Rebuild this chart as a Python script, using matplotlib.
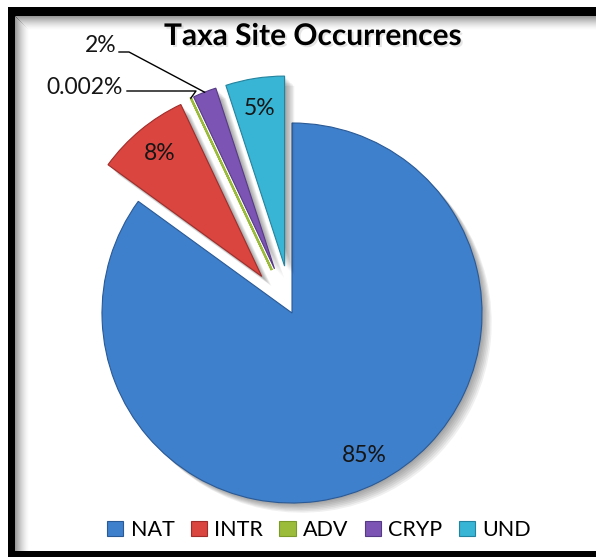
import matplotlib
matplotlib.use("Agg")
import matplotlib.pyplot as plt
import matplotlib.patheffects as pe
from matplotlib.patches import Rectangle, Patch
import numpy as np

plt.rcParams['font.family'] = ['Lato', 'DejaVu Sans']

taxa = ['NAT', 'INTR', 'ADV', 'CRYP', 'UND']
shares = [85, 8, 0.002, 2, 5]
pct_labels = ['85%', '8%', '0.002%', '2%', '5%']
colors = ['#3f80cc', '#da4540', '#9bbb3a', '#7c55b4', '#38b4d4']
edges = ['#2a5a96', '#a02d2a', '#7c9a2a', '#573a86', '#24839e']

W, H = 596, 557
fig = plt.figure(figsize=(W / 100, H / 100), dpi=100, facecolor='white')
ax = fig.add_axes([0, 0, 1, 1])

R = 190
cx, cy = 292, 244
explode = [0] + [0.25 * R] * 4

# soft drop shadow built from a few stacked offsets
shadow = [pe.SimplePatchShadow(offset=(k, -k), shadow_rgbFace='black', alpha=0.06)
          for k in range(1, 8)] + [pe.Normal()]

wedges, _ = ax.pie(shares, colors=colors, explode=explode, radius=R,
                   center=(cx, cy), startangle=90, counterclock=False,
                   wedgeprops=dict(linewidth=0.8))
for w, ec in zip(wedges, edges):
    w.set_edgecolor(ec)
    w.set_path_effects(shadow)
wedges[2].set_linewidth(1.6)
wedges[2].set_edgecolor(colors[2])

def mid_point(w, frac):
    t = np.radians((w.theta1 + w.theta2) / 2)
    return w.center[0] + frac * w.r * np.cos(t), w.center[1] + frac * w.r * np.sin(t)

# percentages inside the larger slices
for i in (0, 1, 4):
    x, y = mid_point(wedges[i], 0.84)
    ax.text(x, y, pct_labels[i], ha='center', va='center', fontsize=16.5,
            color='#151515')

# small slices get labels outside with leader lines
ax_, ay_ = mid_point(wedges[2], 1.0)
ax.text(85, 470, pct_labels[2], ha='center', va='center', fontsize=16.5, color='#151515')
ax.plot([127, 196, ax_], [466, 466, ay_], color='black', lw=1)
ax_, ay_ = mid_point(wedges[3], 1.0)
ax.text(101, 511, pct_labels[3], ha='center', va='center', fontsize=16.5, color='#151515')
ax.plot([119, 129, ax_], [505, 505, ay_], color='black', lw=1)

ax.set_xlim(0, W)
ax.set_ylim(0, H)
ax.set_aspect('auto')
ax.axis('off')

# black frame with inner shading
for k in range(14):
    a = 0.4 * (1 - k / 14) ** 1.5
    ax.add_patch(Rectangle((15 + k, 6), 1, H - 22 - k, color='black', alpha=a, lw=0, zorder=0))
    ax.add_patch(Rectangle((15 + k, H - 17 - k), W - 15 - k, 1, color='black', alpha=a, lw=0, zorder=0))
ax.add_patch(Rectangle((8, 0), 7, H - 7, color='black', lw=0, zorder=5))
ax.add_patch(Rectangle((8, H - 16), W - 8, 9, color='black', lw=0, zorder=5))
ax.add_patch(Rectangle((8, 0), W - 8, 6, color='black', lw=0, zorder=5))

fig.text(313 / W, 1 - 36 / H, 'Taxa Site Occurrences', ha='center', va='center',
         fontsize=21.5, fontweight='bold', color='black',
         path_effects=[pe.SimplePatchShadow(offset=(1.5, -1.5), shadow_rgbFace='gray', alpha=0.2),
                       pe.Normal()])

handles = [Patch(facecolor=c, edgecolor=e, linewidth=0.8) for c, e in zip(colors, edges)]
fig.legend(handles, taxa, loc='center', bbox_to_anchor=(319 / W, 27 / H), ncol=5,
           frameon=False, fontsize=15.5, handlelength=0.75, handleheight=0.75,
           handletextpad=0.35, columnspacing=0.75)

fig.savefig('out.png', dpi=100, facecolor='white')
